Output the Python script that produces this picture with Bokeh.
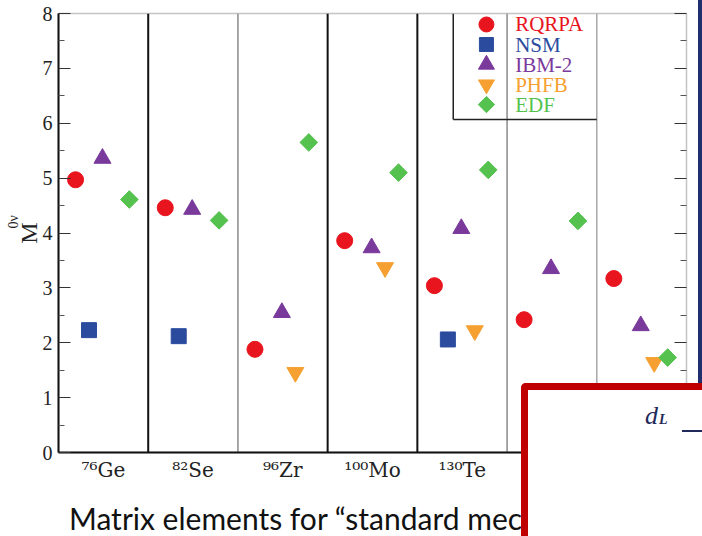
import numpy as np
from bokeh.plotting import figure
from bokeh.layouts import column
from bokeh.models import (Span, LinearAxis, FixedTicker, Range1d, ColumnDataSource, Div,
                          Title)
from bokeh.embed import file_html
from bokeh.resources import INLINE
from bokeh.core.properties import value

nan = float("nan")

# ---- data ----
nuclei = ["⁷⁶Ge", "⁸²Se", "⁹⁶Zr", "¹⁰⁰Mo", "¹³⁰Te", "¹³⁶Xe", "¹⁵⁰Nd"]
rqrpa = [4.97, 4.46, 1.88, 3.86, 3.04, 2.42, 3.17]
nsm = [2.23, 2.12, nan, nan, 2.06, nan, nan]
ibm2 = [5.36, 4.43, 2.55, 3.73, 4.08, 3.35, 2.31]
phfb = [nan, nan, 1.46, 3.37, 2.22, nan, 1.64]
edf = [4.61, 4.23, 5.65, 5.10, 5.15, 4.22, 1.73]
models = ["RQRPA", "NSM", "IBM-2", "PHFB", "EDF"]
series = [rqrpa, nsm, ibm2, phfb, edf]
y_ticks = [0, 1, 2, 3, 4, 5, 6, 7, 8]

# ---- styles ----
colors = ["#e8141e", "#2b4c9e", "#7a3a9c", "#f5a031", "#55c24f"]
markers = ["circle", "square", "triangle", "inverted_triangle", "square"]
angles = [0, 0, 0, 0, np.pi / 4]
sizes = [16, 15, 17, 17, 12.5]
serif = "Liberation Serif"

p = figure(width=702, height=536, x_range=Range1d(0, len(nuclei)),
           y_range=Range1d(0, 8), output_backend="svg", toolbar_location=None,
           min_border_left=58, min_border_right=16, min_border_top=13,
           min_border_bottom=84)
p.xgrid.visible = False
p.ygrid.visible = False
p.outline_line_color = "#c4c4c4"
p.outline_line_width = 1.5
p.background_fill_color = "white"
p.border_fill_color = "white"

# column separators
sep_colors = ["#111111", "#8a8a8a", "#111111", "#111111", "#8a8a8a", "#a8a8a8"]
sep_widths = [2, 1.5, 2, 2, 1.5, 1.5]
for i in range(1, len(nuclei)):
    p.add_layout(Span(location=i, dimension="height", line_color=sep_colors[i - 1],
                      line_width=sep_widths[i - 1], level="underlay"))

# data points
center, step = 0.49, 0.15
xs_base = np.arange(len(nuclei))
for k, (name, vals) in enumerate(zip(models, series)):
    src = ColumnDataSource(dict(x=xs_base + center + (k - 2) * step, y=vals))
    p.scatter("x", "y", source=src, marker=markers[k], angle=angles[k],
              size=sizes[k], fill_color=colors[k], line_color=colors[k])

# legend (drawn by hand)
leg_left, leg_bottom = 4.40, 6.07
leg_mx, leg_tx, leg_top, leg_step = 4.77, 5.09, 7.80, 0.365
p.segment(x0=[leg_left, leg_left], y0=[8, leg_bottom], x1=[leg_left, 6.0],
          y1=[leg_bottom, leg_bottom], line_color="#222222", line_width=1.5)
ly = [leg_top - k * leg_step for k in range(len(models))]
for k in range(len(models)):
    p.scatter([leg_mx], [ly[k]], marker=markers[k], angle=angles[k], size=sizes[k] - 1,
              fill_color=colors[k], line_color=colors[k])
    p.text([leg_tx], [ly[k]], text=[models[k]], text_color=colors[k],
           text_font=value(serif), text_font_size="21px", text_baseline="middle",
           text_align="left")

# axes
yax = p.yaxis[0]
yax.ticker = FixedTicker(ticks=y_ticks, minor_ticks=[t + 0.5 for t in y_ticks[:-1]])
yax.major_tick_in = 12
yax.major_tick_out = 0
yax.minor_tick_in = 6
yax.minor_tick_out = 0
yax.axis_line_width = 2
yax.axis_line_color = "#111111"
yax.major_tick_line_color = "#333333"
yax.minor_tick_line_color = "#555555"
yax.major_label_text_font = serif
yax.major_label_text_font_size = "20px"
yax.major_label_text_color = "#222222"
yax.major_label_standoff = 6
yax.axis_label = "M"
yax.axis_label_text_font = serif
yax.axis_label_text_font_style = "normal"
yax.axis_label_text_font_size = "24px"
yax.axis_label_text_color = "#222222"
yax.axis_label_standoff = -2

rax = LinearAxis(ticker=FixedTicker(ticks=y_ticks, minor_ticks=[t + 0.5 for t in y_ticks[:-1]]),
                 major_label_overrides={t: "" for t in y_ticks})
rax.major_tick_in = 12
rax.major_tick_out = 0
rax.minor_tick_in = 6
rax.minor_tick_out = 0
rax.axis_line_color = None
rax.major_tick_line_color = "#333333"
rax.minor_tick_line_color = "#555555"
p.add_layout(rax, "right")

xax = p.xaxis[0]
xax.ticker = FixedTicker(ticks=[i + 0.5 for i in range(len(nuclei))])
xax.major_label_overrides = {i + 0.5: n for i, n in enumerate(nuclei)}
xax.major_tick_in = 0
xax.major_tick_out = 0
xax.minor_tick_in = 0
xax.minor_tick_out = 0
xax.axis_line_width = 2
xax.axis_line_color = "#111111"
xax.major_label_text_font = "DejaVu Serif"
xax.major_label_text_font_size = "20px"
xax.major_label_text_color = "#222222"
xax.major_label_standoff = 5

# superscript of the y-axis label (0ν)
p.add_layout(Title(text="0ν", align="left", offset=224, standoff=-17,
                   text_font=serif, text_font_size="14px", text_font_style="normal",
                   text_color="#222222"), "left")

# slide caption under the chart
caption = Div(text="Matrix elements for “standard mechanism”", width=640, height=30,
              margin=0,
              styles={"position": "absolute", "left": "69px", "top": "503px",
                      "width": "640px", "height": "30px", "line-height": "30px",
                      "font-family": "Lato", "font-size": "30px", "color": "#111111",
                      "white-space": "nowrap", "z-index": "5"})

# slide background strip on the right
strip = Div(text="", width=4, height=383, margin=0,
            styles={"position": "absolute", "left": "698px", "top": "0px",
                    "width": "4px", "height": "383px", "background": "#20306e",
                    "z-index": "6"})

# the slide box that overlaps the chart
box = Div(
    text=('<div style="position:absolute;left:117px;top:13px;line-height:26px;'
          'font-family:\'Liberation Serif\';font-style:italic;font-size:26px;'
          'color:#1f2a5a;white-space:nowrap;">d<span style="font-size:14px;'
          'font-weight:bold;margin-left:1px;">L</span></div>'
          '<div style="position:absolute;left:154px;top:40px;width:40px;height:1.5px;'
          'background:#1f2a5a;"></div>'),
    width=181, height=153, margin=0,
    styles={"position": "absolute", "left": "521px", "top": "383px",
            "width": "181px", "height": "153px", "box-sizing": "border-box",
            "border-left": "7px solid #c00000", "border-top": "7px solid #c00000",
            "border-top-left-radius": "5px", "background": "white",
            "z-index": "10", "overflow": "hidden"})

open("out.html", "w").write(file_html(column(p, caption, strip, box), INLINE))
